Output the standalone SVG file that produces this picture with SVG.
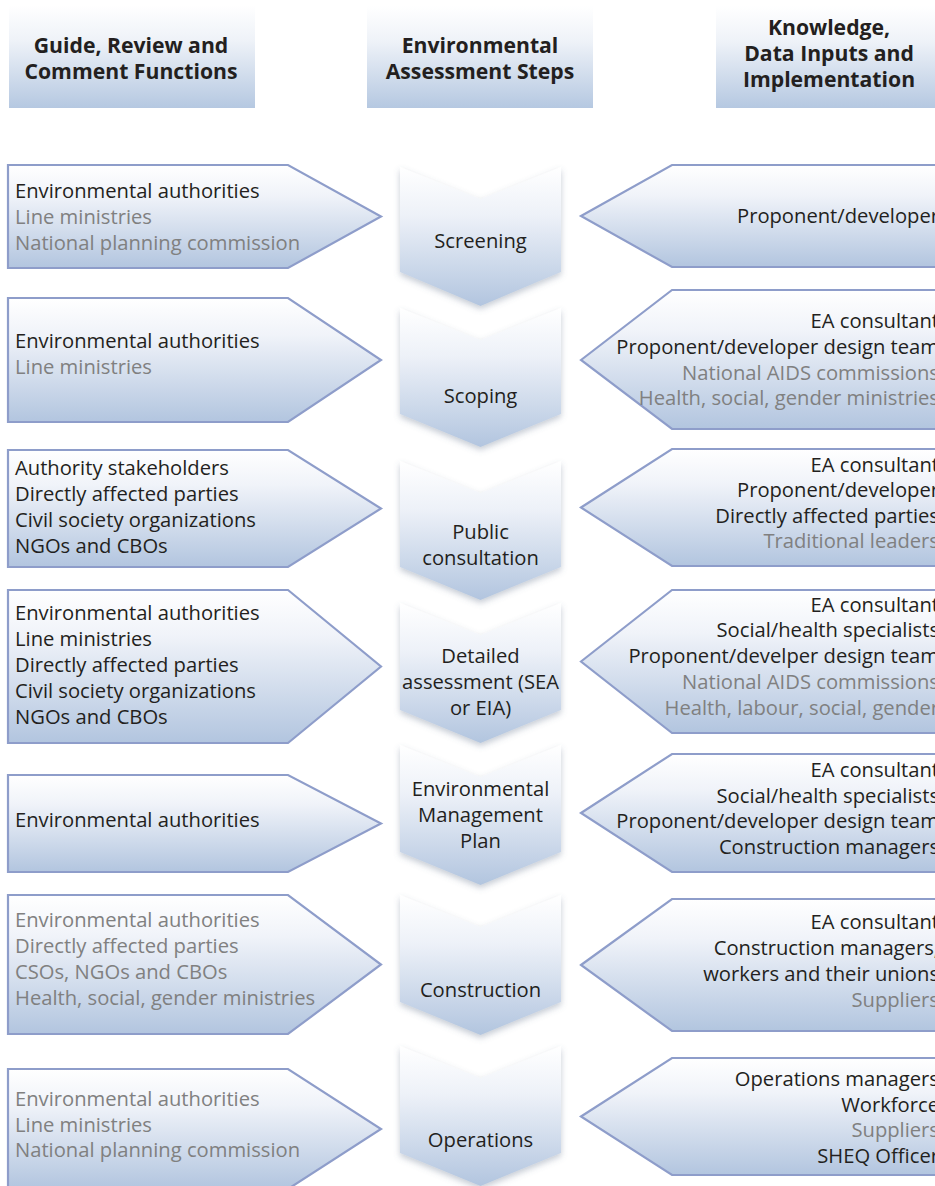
<svg xmlns="http://www.w3.org/2000/svg" width="935" height="1186" viewBox="0 0 935 1186">
<defs>
<linearGradient id="gBox" x1="0" y1="0" x2="0" y2="1">
<stop offset="0" stop-color="#ffffff"/>
<stop offset="0.3" stop-color="#f0f3f9"/>
<stop offset="1" stop-color="#b2c5df"/>
</linearGradient>
<linearGradient id="gHead" x1="0" y1="0" x2="0" y2="1">
<stop offset="0" stop-color="#ffffff"/>
<stop offset="0.35" stop-color="#eef2f8"/>
<stop offset="1" stop-color="#b5c8e1"/>
</linearGradient>
<linearGradient id="gChev" x1="0" y1="0" x2="0" y2="1">
<stop offset="0" stop-color="#ffffff"/>
<stop offset="0.35" stop-color="#edf1f8"/>
<stop offset="1" stop-color="#b2c5df"/>
</linearGradient>
<filter id="shadow" x="-20%" y="-20%" width="140%" height="150%">
<feDropShadow dx="0" dy="3" stdDeviation="3" flood-color="#5a6a85" flood-opacity="0.35"/>
</filter>
</defs>
<style>
.arrow{fill:url(#gBox);stroke:#8e9dca;stroke-width:2.2;stroke-linejoin:miter}
.head{fill:url(#gHead)}
.chev{fill:url(#gChev);filter:url(#shadow)}
text{font-family:"Open Sans","Noto Sans","DejaVu Sans",sans-serif;font-size:20.2px;fill:#231f20}
.ht{font-weight:bold;font-size:21.2px;text-anchor:middle}
.g{fill:#808080}
.l{text-anchor:start}
.r{text-anchor:end}
.c{text-anchor:middle}
</style>

<g id="headers">
<g id="header-left">
<rect class="head" x="9" y="5" width="246" height="103"/>
<text class="ht" x="131" y="53">Guide, Review and</text>
<text class="ht" x="131" y="79">Comment Functions</text>
</g>
<g id="header-middle">
<rect class="head" x="367" y="6" width="226" height="102"/>
<text class="ht" x="480" y="53">Environmental</text>
<text class="ht" x="480" y="79">Assessment Steps</text>
</g>
<g id="header-right">
<rect class="head" x="716" y="6" width="225" height="102"/>
<text class="ht" x="829" y="35">Knowledge,</text>
<text class="ht" x="829" y="61">Data Inputs and</text>
<text class="ht" x="829" y="87">Implementation</text>
</g>
</g>

<g id="connectors"></g>

<!-- Steps (chevrons) -->
<g id="step-screening">
<polygon class="chev" points="400,167 480.5,199 561,167 561,272 480.5,306 400,272"/>
<text class="c" x="480.5" y="248">Screening</text>
</g>
<g id="step-scoping">
<polygon class="chev" points="400,308 480.5,340 561,308 561,414 480.5,447 400,414"/>
<text class="c" x="480.5" y="403">Scoping</text>
</g>
<g id="step-public">
<polygon class="chev" points="400,461 480.5,493 561,461 561,567 480.5,600 400,567"/>
<text class="c" x="480.5" y="539">Public</text>
<text class="c" x="480.5" y="565">consultation</text>
</g>
<g id="step-detailed">
<polygon class="chev" points="400,603 480.5,635 561,603 561,710 480.5,743 400,710"/>
<text class="c" x="480.5" y="663">Detailed</text>
<text class="c" x="480.5" y="689">assessment (SEA</text>
<text class="c" x="480.5" y="715">or EIA)</text>
</g>
<g id="step-emp">
<polygon class="chev" points="400,745 480.5,777 561,745 561,852 480.5,885 400,852"/>
<text class="c" x="480.5" y="796">Environmental</text>
<text class="c" x="480.5" y="822">Management</text>
<text class="c" x="480.5" y="848">Plan</text>
</g>
<g id="step-construction">
<polygon class="chev" points="400,895 480.5,927 561,895 561,1002 480.5,1035 400,1002"/>
<text class="c" x="480.5" y="997">Construction</text>
</g>
<g id="step-operations">
<polygon class="chev" points="400,1046 480.5,1078 561,1046 561,1153 480.5,1186 400,1153"/>
<text class="c" x="480.5" y="1147">Operations</text>
</g>

<!-- Left: guide/review -->
<g id="left-1">
<polygon class="arrow" points="8,165 288,165 381,216.5 288,268 8,268"/>
<text x="15" y="197.5">Environmental authorities</text>
<text class="g" x="15" y="223.5">Line ministries</text>
<text class="g" x="15" y="249.5">National planning commission</text>
</g>
<g id="left-2">
<polygon class="arrow" points="8,298 288,298 381,360 288,422 8,422"/>
<text x="15" y="348">Environmental authorities</text>
<text class="g" x="15" y="374">Line ministries</text>
</g>
<g id="left-3">
<polygon class="arrow" points="8,450 288,450 381,508.5 288,567 8,567"/>
<text x="15" y="475">Authority stakeholders</text>
<text x="15" y="501">Directly affected parties</text>
<text x="15" y="527">Civil society organizations</text>
<text x="15" y="553">NGOs and CBOs</text>
</g>
<g id="left-4">
<polygon class="arrow" points="8,590 288,590 381,666.5 288,743 8,743"/>
<text x="15" y="620">Environmental authorities</text>
<text x="15" y="646">Line ministries</text>
<text x="15" y="672">Directly affected parties</text>
<text x="15" y="698">Civil society organizations</text>
<text x="15" y="724">NGOs and CBOs</text>
</g>
<g id="left-5">
<polygon class="arrow" points="8,775 288,775 381,823.5 288,872 8,872"/>
<text x="15" y="827">Environmental authorities</text>
</g>
<g id="left-6">
<polygon class="arrow" points="8,895 288,895 381,964.5 288,1034 8,1034"/>
<text class="g" x="15" y="927">Environmental authorities</text>
<text class="g" x="15" y="953">Directly affected parties</text>
<text class="g" x="15" y="979">CSOs, NGOs and CBOs</text>
<text class="g" x="15" y="1005">Health, social, gender ministries</text>
</g>
<g id="left-7">
<polygon class="arrow" points="8,1069 288,1069 381,1129 288,1189 8,1189"/>
<text class="g" x="15" y="1106">Environmental authorities</text>
<text class="g" x="15" y="1132">Line ministries</text>
<text class="g" x="15" y="1157">National planning commission</text>
</g>

<!-- Right: knowledge/data -->
<g id="right-1">
<polygon class="arrow" points="581,216 672,165 950,165 950,267 672,267"/>
<text class="r" x="939" y="223">Proponent/developer</text>
</g>
<g id="right-2">
<polygon class="arrow" points="581,360 672,290 950,290 950,429 672,429"/>
<text class="r" x="939" y="328">EA consultant</text>
<text class="r" x="939" y="354">Proponent/developer design team</text>
<text class="r g" x="939" y="380">National AIDS commissions</text>
<text class="r g" x="939" y="405">Health, social, gender ministries</text>
</g>
<g id="right-3">
<polygon class="arrow" points="581,507.5 672,449 950,449 950,566 672,566"/>
<text class="r" x="939" y="472">EA consultant</text>
<text class="r" x="939" y="497">Proponent/developer</text>
<text class="r" x="939" y="523">Directly affected parties</text>
<text class="r g" x="939" y="548">Traditional leaders</text>
</g>
<g id="right-4">
<polygon class="arrow" points="581,661.5 672,590 950,590 950,733 672,733"/>
<text class="r" x="939" y="612">EA consultant</text>
<text class="r" x="939" y="637">Social/health specialists</text>
<text class="r" x="939" y="663">Proponent/develper design team</text>
<text class="r g" x="939" y="689">National AIDS commissions</text>
<text class="r g" x="939" y="715">Health, labour, social, gender</text>
</g>
<g id="right-5">
<polygon class="arrow" points="581,813 672,754 950,754 950,872 672,872"/>
<text class="r" x="939" y="777">EA consultant</text>
<text class="r" x="939" y="803">Social/health specialists</text>
<text class="r" x="939" y="828">Proponent/developer design team</text>
<text class="r" x="939" y="854">Construction managers</text>
</g>
<g id="right-6">
<polygon class="arrow" points="581,965 672,899 950,899 950,1031 672,1031"/>
<text class="r" x="939" y="929">EA consultant</text>
<text class="r" x="939" y="955">Construction managers,</text>
<text class="r" x="939" y="981">workers and their unions</text>
<text class="r g" x="939" y="1007">Suppliers</text>
</g>
<g id="right-7">
<polygon class="arrow" points="581,1116.5 672,1058 950,1058 950,1175 672,1175"/>
<text class="r" x="939" y="1086">Operations managers</text>
<text class="r" x="939" y="1112">Workforce</text>
<text class="r g" x="939" y="1137">Suppliers</text>
<text class="r" x="939" y="1163">SHEQ Officer</text>
</g>
</svg>
